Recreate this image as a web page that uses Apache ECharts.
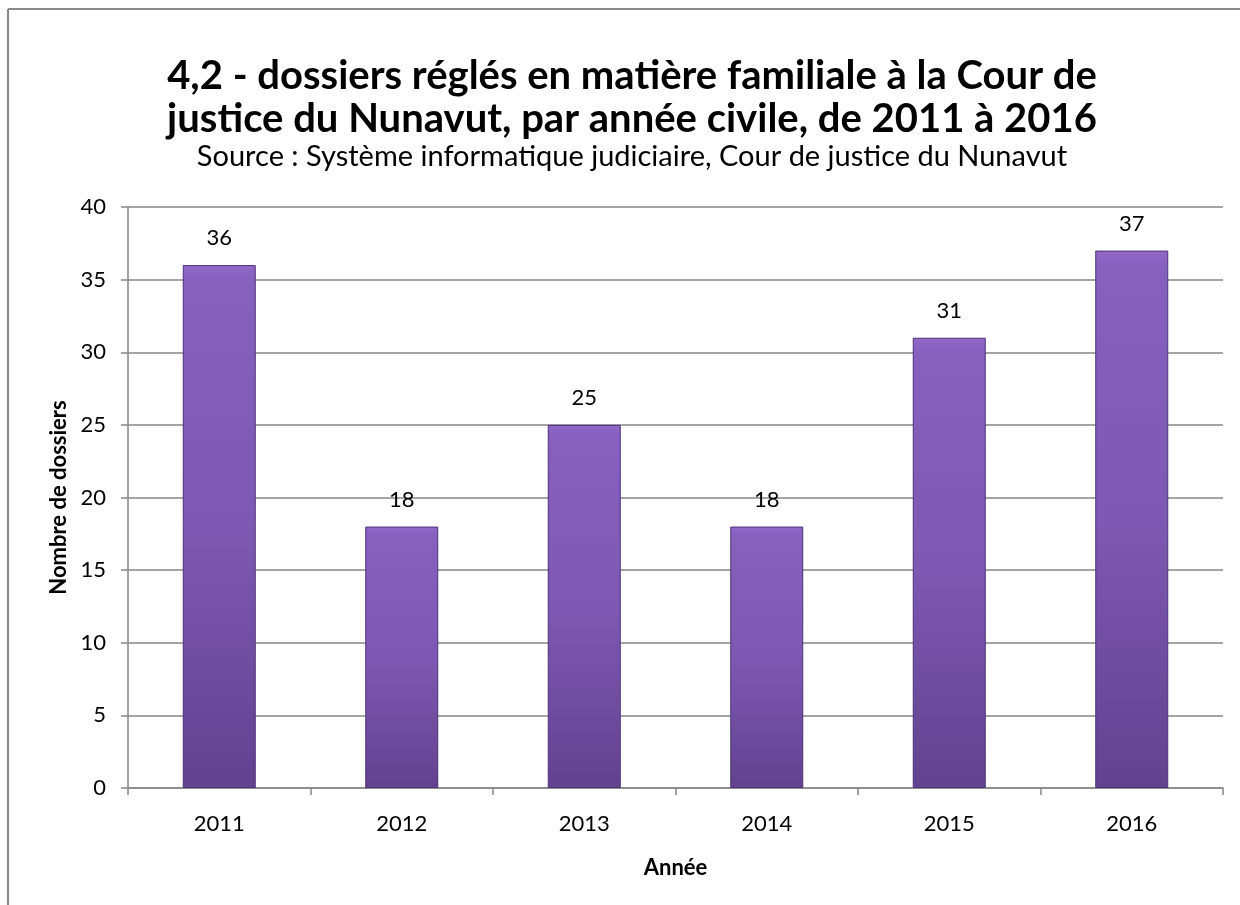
<!DOCTYPE html>
<html>
<head>
<meta charset="utf-8">
<script src="https://cdn.jsdelivr.net/npm/echarts@6/dist/echarts.min.js"></script>
<style>
  html, body { margin: 0; padding: 0; background: #fff; }
  #chart { width: 1240px; height: 905px; }
</style>
</head>
<body>
<div id="chart"></div>
<script>
const years = ['2011', '2012', '2013', '2014', '2015', '2016'];
const dossiers = [36, 18, 25, 18, 31, 37];

const font = 'Lato, "Open Sans", sans-serif';
const chart = echarts.init(document.getElementById('chart'));

// bar fill: light bevel at the top, darker towards the base
const barColor = new echarts.graphic.LinearGradient(0, 0, 0, 1, [
    { offset: 0, color: '#9268c9' },
    { offset: 0.03, color: '#8560bd' },
    { offset: 0.5, color: '#7d59b3' },
    { offset: 1, color: '#62428f' },
]);

chart.setOption({
    animation: false,
    backgroundColor: '#fff',
    title: [{
        text: '4,2 - dossiers réglés en matière familiale à la Cour de\njustice du Nunavut, par année civile, de 2011 à 2016',
        left: 627,
        top: 50,
        textAlign: 'center',
        textStyle: { fontFamily: font, fontSize: 40, fontWeight: 'bold', color: '#000', lineHeight: 43 },
    }, {
        text: 'Source : Système informatique judiciaire, Cour de justice du Nunavut',
        left: 627,
        top: 137,
        textAlign: 'center',
        textStyle: { fontFamily: font, fontSize: 29, fontWeight: 'normal', color: '#000' },
    }],
    graphic: [
        { type: 'line', shape: { x1: 8, y1: 9, x2: 1240, y2: 9 }, style: { stroke: '#888', lineWidth: 2 } },
        { type: 'line', shape: { x1: 8, y1: 9, x2: 8, y2: 905 }, style: { stroke: '#888', lineWidth: 2 } },
    ],
    grid: { left: 128, right: 17, top: 207, bottom: 117 },
    xAxis: {
        type: 'category',
        data: years,
        name: 'Année',
        nameLocation: 'middle',
        nameGap: 69,
        nameTextStyle: { fontFamily: font, fontSize: 22, fontWeight: 'bold', color: '#000' },
        axisLine: { lineStyle: { color: '#868686', width: 1.5 } },
        axisTick: { show: true, length: 7, lineStyle: { color: '#868686', width: 1.5 } },
        axisLabel: { fontFamily: font, fontSize: 22, color: '#000', margin: 25 },
    },
    yAxis: {
        type: 'value',
        min: 0,
        max: 40,
        interval: 5,
        name: 'Nombre de dossiers',
        nameLocation: 'middle',
        nameGap: 57,
        nameTextStyle: { fontFamily: font, fontSize: 22, fontWeight: 'bold', color: '#000' },
        axisLine: { show: true, lineStyle: { color: '#868686', width: 1.5 } },
        axisTick: { show: true, inside: false, length: 7, lineStyle: { color: '#868686', width: 1.5 } },
        axisLabel: { fontFamily: font, fontSize: 22, color: '#000', margin: 22 },
        splitLine: { lineStyle: { color: '#868686', width: 1.5 } },
    },
    series: [{
        type: 'bar',
        data: dossiers,
        barWidth: '40%',
        itemStyle: { color: barColor, borderColor: '#4d3279', borderWidth: 1 },
        label: {
            show: true,
            position: 'top',
            distance: 16,
            fontFamily: font,
            fontSize: 22,
            color: '#000',
        },
    }],
});
</script>
</body>
</html>
